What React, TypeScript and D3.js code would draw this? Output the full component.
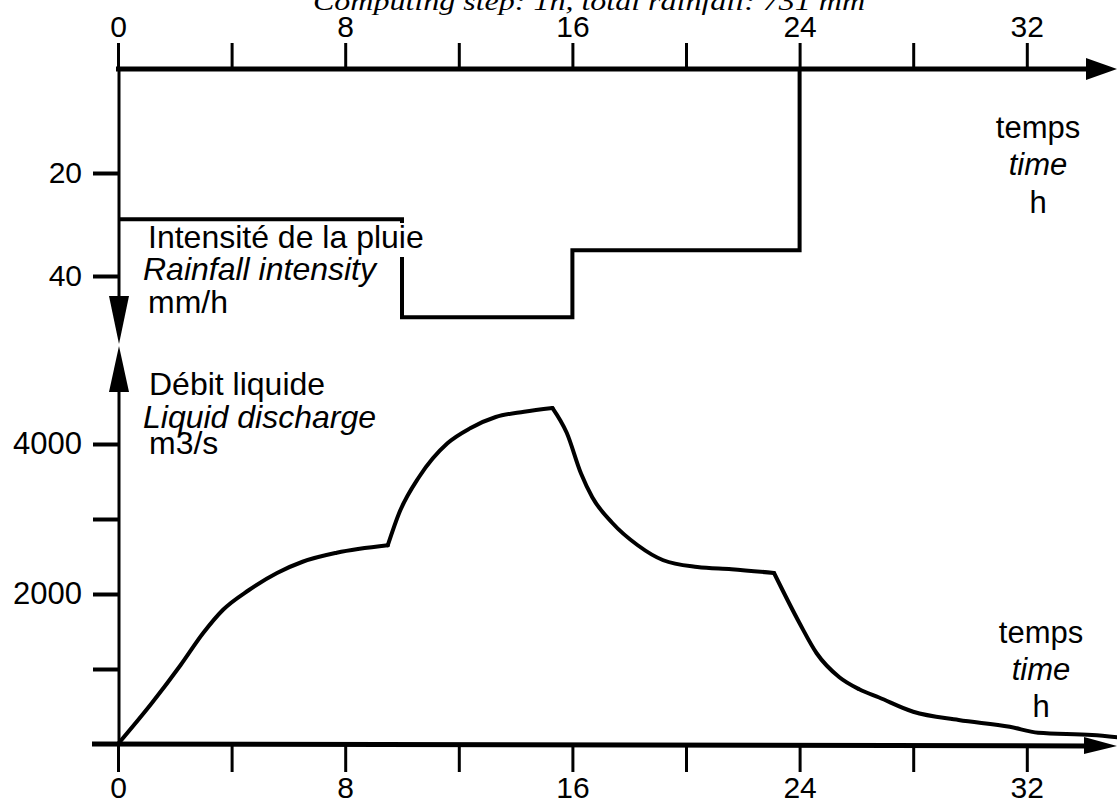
import React, { useRef, useEffect } from 'react';
import * as d3 from 'd3';

// discharge hydrograph
const hours = [0, 1.2, 2.2, 3, 3.7, 4.6, 5.6, 6.5, 7.7, 9.5, 9.9, 10.6, 11.6, 12.4, 13.3, 14.3, 15.3, 15.8, 16.3, 16.7, 17.4, 18.3, 19.2, 20.4, 21.6, 23.1, 24, 24.6, 25.4, 26.1, 26.8, 28, 29.6, 31.4, 32.4, 34.3, 35.2];
const discharge = [0, 550, 1050, 1480, 1790, 2050, 2280, 2430, 2550, 2650, 3080, 3560, 4010, 4210, 4360, 4430, 4480, 4150, 3610, 3290, 2950, 2650, 2450, 2360, 2330, 2280, 1610, 1210, 890, 730, 620, 430, 320, 230, 150, 120, 90];
// sharp corners of the hydrograph (indices into the arrays above)
const corners = [0, 9, 16, 25, hours.length - 1];

// rainfall hyetograph (step starts, mm/h)
const rainHours = [0, 10, 16, 24];
const rainIntensity = [29, 48, 35, 0];

const timeTicks = [0, 4, 8, 12, 16, 20, 24, 28, 32];
const rainTicks = [20, 40];
const dischargeTicks = [1000, 2000, 3000, 4000];
const dischargeLabels = [2000, 4000];

const title = 'Computing step: 1h, total rainfall: 731 mm';
const rainLabel = ['Intensité de la pluie', 'Rainfall intensity', 'mm/h'];
const dischargeLabel = ['Débit liquide', 'Liquid discharge', 'm3/s'];
const timeLabel = ['temps', 'time', 'h'];

const FONT = "'Liberation Sans', Arial, Helvetica, sans-serif";

const App = () => {
  const ref = useRef(null);

  useEffect(() => {
    const width = 1117, height = 800;
    const svg = d3.select(ref.current);
    svg.selectAll('*').remove();
    svg.attr('width', width).attr('height', height);

    const x = d3.scaleLinear().domain([0, 32]).range([118, 1026.8]);
    const yRain = d3.scaleLinear().domain([0, 40]).range([70, 276]);
    const yQ = d3.scaleLinear().domain([0, 4000]).range([744, 444]);

    const x0 = x(0);
    const topY = yRain(0) - 1;
    const botY = yQ(0);

    // title (cut off at the top edge)
    svg.append('text')
      .attr('x', 313).attr('y', 10)
      .attr('textLength', 552).attr('lengthAdjust', 'spacingAndGlyphs')
      .style('font-family', "'Liberation Serif', 'DejaVu Serif', serif")
      .style('font-style', 'italic').style('font-size', '26px')
      .text(title);

    // ---- top time axis ----
    const topAxis = svg.append('g')
      .attr('transform', `translate(0,${topY})`)
      .call(d3.axisTop(x).tickValues(timeTicks).tickSize(26).tickPadding(6)
        .tickFormat(d => (d % 8 === 0 ? String(d) : '')));
    topAxis.select('.domain').remove();
    topAxis.attr('font-size', 30).attr('font-family', FONT);
    topAxis.selectAll('line').attr('stroke-width', 3);

    svg.append('line')
      .attr('x1', x0 - 2).attr('x2', 1090).attr('y1', topY).attr('y2', topY)
      .attr('stroke', '#000').attr('stroke-width', 5);
    svg.append('path')
      .attr('d', `M1086,${topY - 11}L1117,${topY}L1086,${topY + 11}Z`)
      .attr('fill', '#000');

    // rainfall vertical axis (points down)
    svg.append('line')
      .attr('x1', x0 + 1).attr('x2', x0 + 1).attr('y1', topY).attr('y2', 300)
      .attr('stroke', '#000').attr('stroke-width', 3);
    svg.append('path')
      .attr('d', `M${x0 - 9},296L${x0 + 1},344L${x0 + 11},296Z`)
      .attr('fill', '#000');

    const rainAxis = svg.append('g')
      .attr('transform', `translate(${x0 + 1},0)`)
      .call(d3.axisLeft(yRain).tickValues(rainTicks).tickSize(26).tickPadding(11));
    rainAxis.select('.domain').remove();
    rainAxis.attr('font-size', 30).attr('font-family', FONT);
    rainAxis.selectAll('line').attr('stroke-width', 4);

    // rainfall steps
    const rainLine = d3.line()
      .x((d, i) => x(rainHours[i]))
      .y(d => yRain(d))
      .curve(d3.curveStepAfter);
    svg.append('path')
      .attr('d', rainLine(rainIntensity))
      .attr('fill', 'none').attr('stroke', '#000').attr('stroke-width', 4);

    // white gap behind rainfall label
    svg.append('rect')
      .attr('x', 140).attr('y', 223).attr('width', 300).attr('height', 34)
      .attr('fill', '#fff');

    svg.append('g').selectAll('text')
      .data(rainLabel)
      .enter()
      .append('text')
        .attr('x', (d, i) => (i === 1 ? 143 : 148))
        .attr('y', (d, i) => [248, 280, 313][i])
        .style('font-family', FONT).style('font-size', '32px')
        .style('font-style', (d, i) => (i === 1 ? 'italic' : 'normal'))
        .text(d => d);

    // top "temps / time / h"
    svg.append('g').selectAll('text')
      .data(timeLabel)
      .enter()
      .append('text')
        .attr('x', 1038).attr('y', (d, i) => [138, 175, 213][i])
        .attr('text-anchor', 'middle')
        .style('font-family', FONT).style('font-size', '31px')
        .style('font-style', (d, i) => (i === 1 ? 'italic' : 'normal'))
        .text(d => d);

    // ---- bottom discharge graph ----
    svg.append('line')
      .attr('x1', x0 + 1).attr('x2', x0 + 1).attr('y1', botY).attr('y2', 380)
      .attr('stroke', '#000').attr('stroke-width', 3);
    svg.append('path')
      .attr('d', `M${x0 - 9},392L${x0 + 1},346L${x0 + 11},392Z`)
      .attr('fill', '#000');

    const qAxis = svg.append('g')
      .attr('transform', `translate(${x0 + 1},0)`)
      .call(d3.axisLeft(yQ).tickValues(dischargeTicks).tickSize(26).tickPadding(11)
        .tickFormat(d => (dischargeLabels.includes(d) ? String(d) : '')));
    qAxis.select('.domain').remove();
    qAxis.attr('font-size', 31).attr('font-family', FONT);
    qAxis.selectAll('line').attr('stroke-width', 4);

    const botAxis = svg.append('g')
      .attr('transform', `translate(0,${botY})`)
      .call(d3.axisBottom(x).tickValues(timeTicks).tickSize(28).tickPadding(5)
        .tickFormat(d => (d % 8 === 0 ? String(d) : '')));
    botAxis.select('.domain').remove();
    botAxis.attr('font-size', 30).attr('font-family', FONT);
    botAxis.selectAll('line').attr('stroke-width', 3);

    svg.append('line')
      .attr('x1', 92).attr('x2', 1088).attr('y1', botY).attr('y2', botY + 2)
      .attr('stroke', '#000').attr('stroke-width', 5);
    svg.append('path')
      .attr('d', `M1084,${botY - 7}L1117,${botY + 2}L1084,${botY + 10}Z`)
      .attr('fill', '#000');

    // hydrograph, smooth between the sharp corners
    const qLine = d3.line()
      .x(i => x(hours[i]))
      .y(i => yQ(discharge[i]))
      .curve(d3.curveMonotoneX);
    const pieces = corners.slice(1).map((end, k) => d3.range(corners[k], end + 1));
    svg.append('g').selectAll('path')
      .data(pieces)
      .enter()
      .append('path')
        .attr('d', d => qLine(d))
        .attr('fill', 'none').attr('stroke', '#000')
        .attr('stroke-width', 4).attr('stroke-linejoin', 'round')
        .attr('stroke-linecap', 'round');

    svg.append('g').selectAll('text')
      .data(dischargeLabel)
      .enter()
      .append('text')
        .attr('x', (d, i) => (i === 1 ? 143 : 149))
        .attr('y', (d, i) => [395, 428, 454][i])
        .style('font-family', FONT).style('font-size', '32px')
        .style('font-style', (d, i) => (i === 1 ? 'italic' : 'normal'))
        .text(d => d);

    svg.append('g').selectAll('text')
      .data(timeLabel)
      .enter()
      .append('text')
        .attr('x', 1041).attr('y', (d, i) => [643, 680, 717][i])
        .attr('text-anchor', 'middle')
        .style('font-family', FONT).style('font-size', '31px')
        .style('font-style', (d, i) => (i === 1 ? 'italic' : 'normal'))
        .text(d => d);
  }, []);

  return (
    <svg ref={ref} style={{ position: 'absolute', left: 0, top: 0, background: '#fff' }}></svg>
  );
};

export default App;
